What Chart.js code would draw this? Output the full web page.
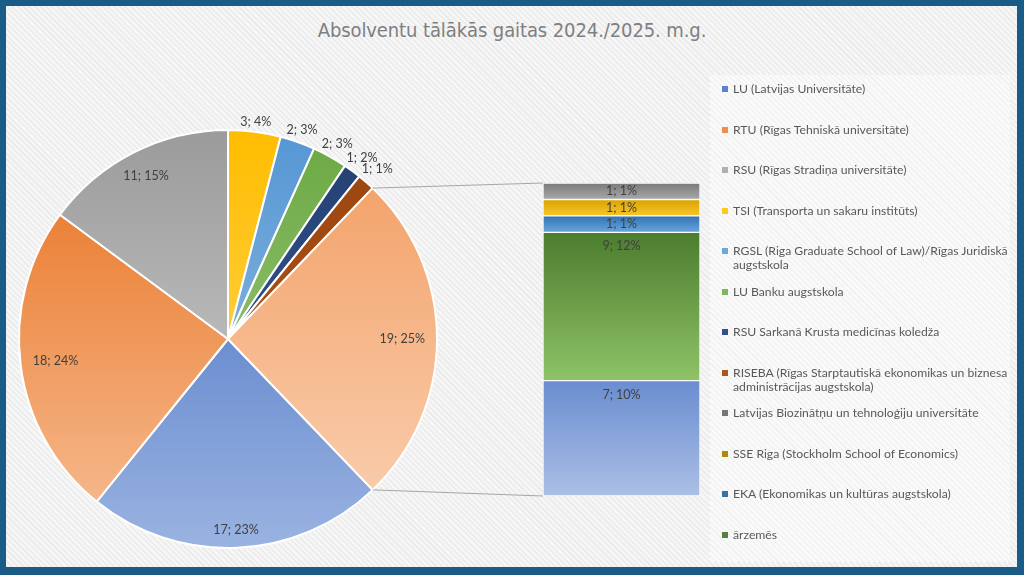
<!DOCTYPE html>
<html>
<head>
<meta charset="utf-8">
<script src="https://cdn.jsdelivr.net/npm/chart.js@4.4.0/dist/chart.umd.min.js"></script>
<style>
  html, body { margin: 0; padding: 0; }
  body { width: 1024px; height: 575px; background: #1b5b88; position: relative; overflow: hidden; font-family: Lato, 'Open Sans', sans-serif; }
  #panel { position: absolute; left: 6px; top: 6px; width: 1011px; height: 561px;
    background: repeating-linear-gradient(45deg, #ebebeb 0 1.5px, #f6f6f6 1.5px 4px); }
  #legendBox { position: absolute; left: 710px; top: 75px; width: 300px; height: 487px;
    background: repeating-linear-gradient(45deg, #f2f2f2 0 1.5px, #fafafa 1.5px 4px); }
  #title { position: absolute; left: 0; top: 18px; width: 1024px; text-align: center;
    font: 20px 'Liberation Sans Narrow', 'DejaVu Sans Condensed', sans-serif; color: #7f7f7f; letter-spacing: -0.1px; }
  canvas { position: absolute; }
  #legend { position: absolute; left: 720px; top: 82px; width: 290px; }
  .item { height: 40.5px; display: flex; font-size: 12.2px; line-height: 14px; color: #595959; }
  .mark { width: 6px; height: 6px; margin: 4px 5px 0 2px; flex: none; }
</style>
</head>
<body>
<div id="panel"></div>
<div id="legendBox"></div>
<div id="title">Absolventu tālākās gaitas 2024./2025. m.g.</div>
<canvas id="pie" width="1024" height="575" style="left:0;top:0"></canvas>
<canvas id="bar" width="157" height="313" style="left:543px;top:183px"></canvas>
<div id="legend"></div>

<script>
// ---- data ----
const categories = [
  'LU (Latvijas Universitāte)',
  'RTU (Rīgas Tehniskā universitāte)',
  'RSU (Rīgas Stradiņa universitāte)',
  'TSI (Transporta un sakaru institūts)',
  'RGSL (Riga Graduate School of Law)/Rīgas Juridiskā augstskola',
  'LU Banku augstskola',
  'RSU Sarkanā Krusta medicīnas koledža',
  'RISEBA (Rīgas Starptautiskā ekonomikas un biznesa administrācijas augstskola)',
  'Latvijas Biozinātņu un tehnoloģiju universitāte',
  'SSE Riga (Stockholm School of Economics)',
  'EKA (Ekonomikas un kultūras augstskola)',
  'ārzemēs',
  'Citi'
];
const counts = [17, 18, 11, 3, 2, 2, 1, 1, 1, 1, 1, 9, 7];
const pieCount = 8;      // first 8 in the pie, the rest go to the bar
const legendCount = 12;  // last entry is not in the legend

// ---- colours ----
const pieFill = [
  ['#3d69bf', '#9ab3e1'], ['#e8711f', '#f7bf96'], ['#9b9b9b', '#d6d6d6'],
  ['#ffbd00', '#ffdc70'], ['#5596d3', '#a3c6e8'], ['#6aa842', '#a9d18e'],
  ['#233f70', '#3f62a3'], ['#984410', '#c05a14'], ['#f29c60', '#fad3b6']
];
const barFill = [
  ['#7a7a7a', '#a8a8a8'], ['#d9a300', '#f8c52c'], ['#2f73b5', '#6aa6dc'],
  ['#4c7c2e', '#8fc367'], ['#6a8dd0', '#abbfe6']
];
const legendColors = ['#5b83cc', '#ef8d4c', '#b0b0b0', '#ffc91f', '#6fa6da', '#80b75c',
  '#34508a', '#a9561f', '#767676', '#b08a10', '#3b70a3', '#58803e'];

// ---- derived ----
const sum = a => a.reduce((s, v) => s + v, 0);
const total = sum(counts);

// Excel rounds the percentages so that they add up to 100
function roundedPercents(vals) {
  const raw = vals.map(v => v / total * 100);
  const out = raw.map(Math.floor);
  let left = 100 - sum(out);
  raw.map((r, i) => ({ i, rem: r - Math.floor(r) }))
    .sort((a, b) => b.rem - a.rem)
    .forEach(o => { if (left > 0) { out[o.i]++; left--; } });
  return out;
}
const pcts = roundedPercents(counts);
const barCounts = counts.slice(pieCount);
const barPcts = pcts.slice(pieCount);
const pieCounts = counts.slice(0, pieCount).concat([sum(barCounts)]);
const piePcts = pcts.slice(0, pieCount).concat([sum(barPcts)]);
const barTotal = sum(barCounts);

Chart.defaults.font.family = 'Lato';
const labelFont = '12.5px Lato';
const labelColor = '#404040';

function pieGradient(c) {
  const chart = c.chart, a = chart.chartArea;
  const cols = pieFill[c.dataIndex];
  if (!a) return cols[0];
  const g = chart.ctx.createLinearGradient(0, a.top, 0, a.bottom);
  g.addColorStop(0, cols[0]);
  g.addColorStop(1, cols[1]);
  return g;
}

function barGradient(c) {
  const k = barCounts.length - 1 - c.datasetIndex;
  const cols = barFill[k];
  const y = c.chart.scales && c.chart.scales.y;
  if (!y) return cols[0];
  const below = sum(barCounts.slice(k + 1));
  const y0 = y.getPixelForValue(below + barCounts[k]);
  const y1 = y.getPixelForValue(below);
  if (!isFinite(y0) || !isFinite(y1)) return cols[0];
  const g = c.chart.ctx.createLinearGradient(0, y0, 0, y1);
  g.addColorStop(0, cols[0]);
  g.addColorStop(1, cols[1]);
  return g;
}

let barChart = null;
const barCanvas = document.getElementById('bar');

// ---- pie labels + connector lines ----
const pieLabels = {
  id: 'pieLabels',
  afterDatasetsDraw(chart) {
    const ctx = chart.ctx;
    const arcs = chart.getDatasetMeta(0).data;
    ctx.save();
    if (barChart) {
      const other = arcs[arcs.length - 1];
      const ys = barChart.scales.y;
      const bx = barCanvas.offsetLeft + barChart.chartArea.left;
      const top = barCanvas.offsetTop + ys.getPixelForValue(barTotal);
      const bottom = barCanvas.offsetTop + ys.getPixelForValue(0);
      ctx.strokeStyle = '#a6a6a6';
      ctx.lineWidth = 1;
      ctx.beginPath();
      ctx.moveTo(other.x + other.outerRadius * Math.cos(other.startAngle), other.y + other.outerRadius * Math.sin(other.startAngle));
      ctx.lineTo(bx, top);
      ctx.moveTo(other.x + other.outerRadius * Math.cos(other.endAngle), other.y + other.outerRadius * Math.sin(other.endAngle));
      ctx.lineTo(bx, bottom);
      ctx.stroke();
    }
    ctx.font = labelFont;
    ctx.fillStyle = labelColor;
    ctx.textAlign = 'center';
    ctx.textBaseline = 'middle';
    arcs.forEach((arc, i) => {
      const mid = (arc.startAngle + arc.endAngle) / 2;
      const dx = Math.cos(mid), dy = Math.sin(mid);
      const text = pieCounts[i] + '; ' + piePcts[i] + '%';
      const w = ctx.measureText(text).width, h = 10;
      const box = Math.abs(dx) * w / 2 + Math.abs(dy) * h / 2;
      // small slices: outside end, big ones: inside end
      const d = pieCounts[i] / total < 0.06 ? arc.outerRadius + 3 + box : arc.outerRadius - 12 - box;
      ctx.fillText(text, arc.x + dx * d, arc.y + dy * d);
    });
    ctx.restore();
  }
};

const pieChart = new Chart(document.getElementById('pie'), {
  type: 'pie',
  data: {
    labels: categories.slice(0, pieCount).concat(['Citi']),
    datasets: [{
      data: pieCounts,
      backgroundColor: pieGradient,
      borderColor: '#ffffff',
      borderWidth: 2
    }]
  },
  options: {
    responsive: false,
    animation: false,
    rotation: 90 + (pieCounts[pieCount] / total * 360) / 2,
    layout: { padding: { left: 18, top: 129, right: 1024 - 438, bottom: 575 - 549 } },
    plugins: { legend: { display: false }, tooltip: { enabled: false } }
  },
  plugins: [pieLabels]
});

// ---- bar labels ----
const barLabels = {
  id: 'barLabels',
  afterDatasetsDraw(chart) {
    const ctx = chart.ctx;
    ctx.save();
    ctx.font = labelFont;
    ctx.fillStyle = labelColor;
    ctx.textAlign = 'center';
    ctx.textBaseline = 'middle';
    chart.data.datasets.forEach((ds, di) => {
      const k = barCounts.length - 1 - di;
      const el = chart.getDatasetMeta(di).data[0];
      const ty = Math.min(el.y + 14, (el.y + el.base) / 2);
      ctx.fillText(barCounts[k] + '; ' + barPcts[k] + '%', el.x, ty);
    });
    ctx.restore();
  }
};

const barDatasets = [];
for (let k = barCounts.length - 1; k >= 0; k--) {
  barDatasets.push({
    label: categories[pieCount + k],
    data: [barCounts[k]],
    backgroundColor: barGradient,
    borderColor: '#ffffff',
    borderWidth: 1,
    borderSkipped: false,
    barPercentage: 1,
    categoryPercentage: 1
  });
}

barChart = new Chart(barCanvas, {
  type: 'bar',
  data: { labels: [''], datasets: barDatasets },
  options: {
    responsive: false,
    animation: false,
    layout: { padding: 0 },
    scales: {
      x: { display: false, stacked: true },
      y: { display: false, stacked: true, min: 0, max: barTotal }
    },
    plugins: { legend: { display: false }, tooltip: { enabled: false } }
  },
  plugins: [barLabels]
});
pieChart.draw();

// ---- legend ----
document.getElementById('legend').innerHTML = categories.slice(0, legendCount).map((c, i) =>
  `<div class="item"><span class="mark" style="background:${legendColors[i]}"></span><span>${c}</span></div>`
).join('');
</script>
</body>
</html>
